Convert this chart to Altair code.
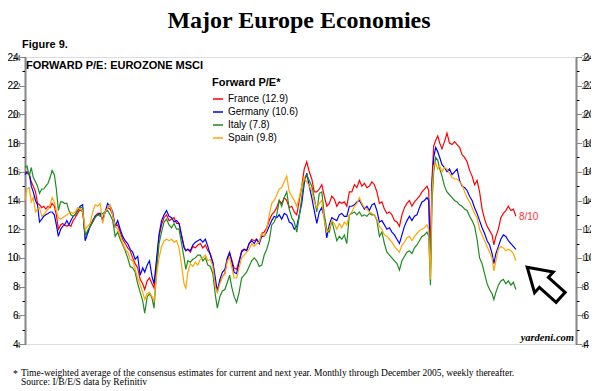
import altair as alt
import pandas as pd

# ---- data (decimal year, forward P/E) ----
dates = [2004.0, 2004.08, 2004.17, 2004.25, 2004.33, 2004.42, 2004.5, 2004.58, 2004.67, 2004.75, 2004.83, 2004.92,
         2005.0, 2005.08, 2005.17, 2005.25, 2005.33, 2005.42, 2005.5, 2005.58, 2005.67, 2005.75, 2005.83, 2005.92,
         2006.0, 2006.1, 2006.2, 2006.3, 2006.4, 2006.5, 2006.6, 2006.7, 2006.8, 2006.9,
         2007.0, 2007.1, 2007.2, 2007.3, 2007.4, 2007.5, 2007.6, 2007.7, 2007.8, 2007.9,
         2008.0, 2008.1, 2008.2, 2008.3, 2008.4, 2008.5, 2008.6, 2008.7, 2008.78, 2008.88, 2008.97,
         2009.07, 2009.15, 2009.25, 2009.35, 2009.45, 2009.55, 2009.65, 2009.75, 2009.85, 2009.95,
         2010.05, 2010.15, 2010.25, 2010.35, 2010.42, 2010.5, 2010.6, 2010.7, 2010.8, 2010.9,
         2011.0, 2011.1, 2011.2, 2011.3, 2011.4, 2011.5, 2011.6, 2011.68, 2011.78, 2011.88, 2011.98,
         2012.08, 2012.17, 2012.25, 2012.35, 2012.45, 2012.55, 2012.65, 2012.75, 2012.85, 2012.95,
         2013.05, 2013.15, 2013.25, 2013.35, 2013.45, 2013.55, 2013.65, 2013.75, 2013.85, 2013.95,
         2014.05, 2014.15, 2014.25, 2014.35, 2014.45, 2014.55, 2014.65, 2014.75, 2014.85, 2014.95,
         2015.05, 2015.15, 2015.25, 2015.35, 2015.45, 2015.55, 2015.65, 2015.75, 2015.85, 2015.95,
         2016.05, 2016.15, 2016.25, 2016.35, 2016.45, 2016.55, 2016.65, 2016.75, 2016.85, 2016.95,
         2017.05, 2017.15, 2017.25, 2017.35, 2017.45, 2017.55, 2017.65, 2017.75, 2017.85, 2017.95,
         2018.05, 2018.15, 2018.25, 2018.35, 2018.45, 2018.55, 2018.65, 2018.75, 2018.85, 2018.95,
         2019.05, 2019.15, 2019.25, 2019.35, 2019.45, 2019.55, 2019.65, 2019.75, 2019.85, 2019.95,
         2020.05, 2020.12, 2020.19, 2020.25, 2020.32, 2020.4, 2020.48, 2020.56, 2020.65, 2020.75, 2020.85, 2020.95,
         2021.05, 2021.15, 2021.25, 2021.35, 2021.45, 2021.55, 2021.65, 2021.75, 2021.85, 2021.95,
         2022.05, 2022.15, 2022.25, 2022.35, 2022.45, 2022.55, 2022.65, 2022.72, 2022.8, 2022.9,
         2023.0, 2023.1, 2023.2, 2023.3, 2023.4, 2023.5, 2023.6]

france = [16.0, 15.9, 15.8, 15.3, 15.0, 14.6, 13.8, 13.7, 13.5, 13.6, 13.4, 13.6,
          13.5, 13.8, 13.6, 13.0, 12.0, 12.3, 12.4, 12.3, 12.2, 12.3, 12.2, 12.6,
          12.8, 13.1, 13.4, 13.2, 11.6, 11.8, 12.2, 12.6, 12.9, 13.1,
          13.1, 12.7, 13.2, 13.5, 13.4, 13.0, 12.2, 12.3, 11.8, 11.3,
          11.0, 10.7, 10.5, 10.0, 9.6, 9.3, 8.5, 8.2, 7.8, 8.4, 8.6,
          8.2, 7.9, 9.6, 11.5, 12.3, 12.8, 13.0, 12.6, 12.7, 12.8,
          12.4, 12.4, 11.6, 10.8, 10.5, 10.6, 10.4, 10.8, 10.7, 10.9,
          11.0, 10.7, 10.9, 10.5, 10.3, 9.6, 8.2, 7.8, 8.3, 8.7, 8.9,
          9.9, 10.3, 9.9, 9.3, 9.2, 9.8, 10.5, 10.6, 10.5, 11.0,
          11.3, 11.2, 11.3, 11.0, 11.7, 11.8, 12.1, 12.6, 13.0, 13.2,
          13.5, 14.0, 13.8, 14.2, 14.0, 13.5, 13.6, 13.2, 13.0, 14.0,
          15.0, 16.2, 16.7, 16.0, 15.5, 14.6, 14.6, 14.8, 15.1, 14.3,
          13.6, 13.8, 14.3, 14.1, 13.6, 13.9, 13.8, 13.9, 13.6, 14.6,
          14.6, 15.1, 14.9, 15.4, 15.0, 15.2, 14.9, 15.0, 15.3, 15.1,
          14.6, 13.8, 13.9, 13.4, 13.1, 13.2, 13.0, 12.6, 12.5, 12.2,
          13.0, 13.5, 13.8, 14.0, 13.6, 13.9, 14.1, 14.3, 14.6, 14.8,
          15.0, 14.7, 10.0, 15.5, 17.8, 18.2, 18.5, 18.0, 17.6, 18.1, 18.7, 18.0,
          17.9, 18.1, 17.9, 17.7, 17.2, 17.0, 16.7, 16.1, 15.7, 15.1,
          15.4, 14.6, 13.4, 12.7, 12.2, 11.9, 11.6, 10.9, 11.5, 12.0,
          12.8, 13.1, 13.3, 13.6, 13.3, 13.4, 12.9]

germany = [15.8, 16.0, 15.9, 15.0, 14.6, 14.0, 13.7, 12.5, 12.7, 12.9, 13.0, 13.1,
           13.2, 13.2, 13.0, 12.3, 11.5, 12.0, 12.2, 12.3, 12.6, 12.3, 12.6, 12.9,
           13.0, 13.3, 13.6, 13.7, 11.2, 11.7, 12.2, 12.5, 12.9, 13.0,
           13.1, 12.6, 13.2, 13.8, 13.6, 13.2, 12.2, 12.6, 12.0, 11.5,
           11.2, 11.0, 10.6, 10.4, 9.9, 10.1, 8.8, 9.3, 9.0, 9.5, 9.8,
           8.7, 8.2, 9.9, 11.6, 12.6, 13.0, 13.3, 12.9, 12.8, 12.5,
           12.6, 12.4, 11.5, 10.7, 10.5, 10.6, 10.5, 10.9, 11.1, 11.2,
           11.3, 11.1, 11.3, 10.8, 10.2, 9.7, 8.6, 7.6, 8.5, 9.0, 9.2,
           10.0, 10.4, 9.8, 9.0, 8.9, 9.7, 10.4, 10.6, 10.5, 11.0,
           11.2, 11.0, 11.3, 11.0, 11.5, 11.5, 11.8, 12.2, 12.6, 12.9,
           12.8, 13.0, 12.7, 13.1, 13.0, 12.5, 12.4, 12.0, 12.2, 13.0,
           13.8, 15.2, 15.9, 15.0, 14.2, 13.3, 12.4, 13.2, 13.5, 12.8,
           11.4, 12.3, 12.8, 12.7, 12.6, 13.0, 13.1, 12.9, 12.9, 13.6,
           13.6, 13.7, 13.9, 14.0, 13.7, 13.4, 13.6, 13.3, 13.7, 13.8,
           13.3, 12.5, 12.6, 12.3, 12.0, 12.1, 11.8, 11.6, 11.3, 11.0,
           11.6, 12.2, 12.6, 12.9, 12.6, 12.9, 13.0, 13.5, 13.9, 14.0,
           14.2, 14.0, 9.2, 15.0, 17.0, 17.7, 17.4, 17.0, 16.5, 16.3, 16.0, 16.2,
           15.8, 16.0, 16.2, 15.4, 15.0, 14.9, 14.7, 14.3, 14.0, 13.5,
           13.1, 12.6, 12.1, 11.7, 11.2, 10.9, 10.3, 9.6, 10.3, 10.8,
           11.3, 11.6, 11.5, 11.2, 11.0, 10.8, 10.6]

italy = [16.3, 16.4, 15.7, 16.3, 15.6, 15.3, 15.0, 14.5, 14.8, 14.8, 15.0, 15.2,
         15.6, 16.1, 15.8, 14.8, 13.3, 13.9, 13.9, 13.8, 13.8, 13.3, 13.0, 12.9,
         13.0, 13.3, 13.5, 13.5, 11.5, 11.9, 12.2, 12.5, 12.8, 13.0,
         12.9, 13.1, 13.2, 13.3, 13.0, 12.6, 11.5, 11.8, 11.3, 10.9,
         10.5, 10.0, 9.4, 9.3, 9.0, 8.2, 7.6, 7.0, 6.15, 7.3, 7.5,
         7.2, 6.5, 9.0, 11.0, 11.8, 12.5, 12.7, 12.3, 12.1, 12.4,
         12.0, 12.0, 11.0, 10.0, 9.2, 9.8, 9.7, 9.9, 10.0, 10.2,
         10.2, 9.8, 10.0, 9.5, 9.4, 8.9, 7.4, 6.5, 7.3, 7.7, 7.8,
         8.3, 8.8, 8.0, 7.3, 6.9, 7.6, 8.6, 8.8, 9.0, 9.4,
         9.8, 10.0, 9.8, 9.4, 9.5, 10.2, 10.6, 11.2, 12.3, 12.5,
         13.0, 14.0, 13.6, 14.2, 14.6, 13.4, 12.8, 12.5, 11.8, 12.9,
         14.2, 15.5, 15.8, 15.4, 15.0, 14.2, 13.2, 14.5, 14.6, 13.0,
         12.0, 11.8, 12.6, 11.9, 11.2, 11.5, 11.3, 11.6, 11.0, 13.0,
         13.1, 13.2, 13.0, 13.2, 12.9, 13.0, 12.9, 13.1, 13.0, 13.0,
         12.6, 11.5, 11.8, 11.0, 10.4, 10.2, 10.0, 9.8, 9.6, 9.15,
         9.8, 10.1, 10.4, 10.5, 10.3, 10.7, 10.9, 11.2, 11.5, 11.6,
         11.8, 11.5, 8.1, 13.8, 16.0, 17.0, 16.8, 16.2, 15.7, 15.0, 14.6, 14.4,
         14.2, 14.0, 13.9, 13.7, 13.6, 13.4, 13.3, 12.9, 12.6, 12.2,
         11.3, 10.0, 9.6, 8.9, 8.2, 7.8, 7.5, 7.1, 7.6, 8.1,
         8.4, 8.5, 8.2, 8.4, 8.1, 8.3, 7.8]

spain = [14.0, 14.8, 14.9, 13.9, 14.2, 13.2, 13.4, 13.5, 12.9, 13.0, 13.2, 13.4,
         13.7, 14.2, 13.9, 13.3, 12.8, 12.7, 12.8, 12.9, 13.0, 13.1, 13.2, 13.1,
         13.2, 13.5, 13.4, 13.3, 12.0, 12.2, 12.4, 13.2, 13.7, 13.6,
         13.8, 12.4, 13.2, 13.5, 13.7, 13.0, 12.2, 12.0, 11.6, 11.0,
         10.6, 10.4, 9.9, 9.8, 9.2, 8.6, 8.1, 7.6, 7.1, 7.5, 7.6,
         7.3, 7.0, 8.8, 10.0, 10.8, 11.2, 11.3, 11.2, 11.3, 11.1,
         11.2, 10.7, 9.5, 8.2, 7.9, 9.0, 9.6, 9.4, 9.7, 9.5,
         9.9, 10.0, 10.2, 9.8, 9.9, 9.4, 8.0, 7.6, 8.2, 8.7, 8.9,
         9.8, 10.0, 9.4, 8.6, 8.6, 9.3, 10.0, 10.2, 10.4, 10.6,
         11.0, 10.8, 11.0, 11.1, 11.7, 11.5, 12.0, 13.0, 13.8, 14.0,
         14.4, 14.8, 14.9, 15.3, 15.7, 14.6, 14.3, 14.0, 13.6, 14.2,
         15.0, 15.6, 15.3, 15.0, 14.7, 13.9, 13.5, 13.8, 14.0, 12.6,
         11.8, 12.0, 12.6, 12.4, 12.0, 12.4, 12.1, 12.5, 12.3, 13.0,
         13.2, 13.6, 13.8, 14.2, 13.8, 13.5, 13.4, 13.2, 13.1, 13.0,
         12.7, 12.2, 12.0, 11.6, 11.5, 11.3, 11.1, 10.8, 10.6, 10.4,
         10.9, 11.1, 11.4, 11.5, 11.2, 11.5, 11.7, 11.9, 12.0, 12.1,
         12.3, 12.0, 8.5, 14.5, 16.4, 16.6, 16.2, 16.4, 16.0, 16.3, 16.2, 15.9,
         15.6, 15.5, 15.5, 15.3, 15.1, 14.6, 14.2, 13.9, 13.5, 13.1,
         12.8, 12.0, 11.6, 11.2, 10.8, 10.4, 10.0, 9.1, 9.8, 10.6,
         10.8, 10.7, 10.5, 10.6, 10.5, 10.3, 9.8]

series_names = ["France (12.9)", "Germany (10.6)", "Italy (7.8)", "Spain (9.8)"]
series_colors = ["#FF0000", "#0000FF", "#1E8C1E", "#FFA500"]
year_ticks = list(range(2004, 2027))
y_ticks = list(range(4, 25))

note_date = [2023.72]
note_value = [12.85]
note_text = ["8/10"]

arrow_date = [2024.72]
arrow_value = [8.3]


def to_ts(d):
    y = int(d)
    return pd.Timestamp(year=y, month=1, day=1) + pd.Timedelta(days=(d - y) * 365.25)


rows = []
for name, vals in zip(series_names, [france, germany, italy, spain]):
    for d, v in zip(dates, vals):
        rows.append({"date": to_ts(d), "pe": v, "series": name})
df = pd.DataFrame(rows)

W, H = 551, 287
x_scale = alt.Scale(domain=[alt.DateTime(year=2004, month=1, date=1),
                            alt.DateTime(year=2026, month=1, date=1)])
y_scale = alt.Scale(domain=[4, 24], nice=False, zero=False)

x_axis = alt.Axis(
    values=[alt.DateTime(year=y, month=1, date=1) for y in year_ticks],
    labelExpr="year(datum.value) >= 2026 ? '' : timeFormat(datum.value, '%Y')",
    labelOffset=12.5, labelAlign="center", labelFlush=False, labelOverlap=False,
    tickSize=7, tickColor="#000", tickWidth=1, labelPadding=-2,
    labelFont="Liberation Serif", labelFontSize=10, labelColor="#222",
    domainColor="#000", domainWidth=1.5, grid=False, title=None,
)


def y_axis(orient, major, minor, pad):
    return alt.Axis(
        orient=orient, values=y_ticks,
        labelExpr="datum.value % 2 == 0 ? datum.label : ''",
        tickSize={"condition": {"test": "datum.value % 2 == 0", "value": major}, "value": minor},
        tickColor="#000", tickWidth=1, labelPadding=pad,
        labelFont="Liberation Serif", labelFontSize=8.5, labelColor="#333",
        domainColor="#000", domainWidth=1.5, grid=False, title=None, labelOverlap=False,
    )


lines = alt.Chart(df).mark_line(strokeWidth=1.2).encode(
    x=alt.X("date:T", scale=x_scale, axis=x_axis),
    y=alt.Y("pe:Q", scale=y_scale, axis=y_axis("left", 5, 3, 0)),
    color=alt.Color("series:N", sort=series_names,
                    scale=alt.Scale(domain=series_names, range=series_colors),
                    legend=alt.Legend(title="Forward P/E*", orient="none",
                                      legendX=187, legendY=20)),
    order=alt.Order("date:T"),
)

right_axis = alt.Chart(df).mark_line(opacity=0).encode(
    x=alt.X("date:T", scale=x_scale, axis=None),
    y=alt.Y("pe:Q", scale=y_scale, axis=y_axis("right", 5, 3, 0)),
    detail="series:N",
)

note_df = pd.DataFrame({"date": [to_ts(d) for d in note_date], "pe": note_value, "t": note_text})
note = alt.Chart(note_df).mark_text(color="#FF3030", fontSize=10, align="left", baseline="middle",
                                    font="Liberation Sans").encode(
    x=alt.X("date:T", scale=x_scale), y=alt.Y("pe:Q", scale=y_scale), text="t:N")

arrow_df = pd.DataFrame({"date": [to_ts(d) for d in arrow_date], "pe": arrow_value})
arrow_path = "M0,-1 L0.62,0 L0.3,0 L0.3,1 L-0.3,1 L-0.3,0 L-0.62,0 Z"
arrow = alt.Chart(arrow_df).mark_point(shape=arrow_path, size=2025, angle=312, filled=False,
                                       stroke="#000", strokeWidth=3, opacity=1).encode(
    x=alt.X("date:T", scale=x_scale), y=alt.Y("pe:Q", scale=y_scale))


def label(text, x, y, **kw):
    return alt.Chart(pd.DataFrame({"t": [text]})).mark_text(baseline="middle", **kw).encode(
        x=alt.value(x), y=alt.value(y), text="t:N")


main_title = label("Major Europe Economies", 274, -36, align="center", font="Liberation Serif",
                   fontSize=24, fontWeight="bold", color="#000")
fig = label("Figure 9.", -3, -12, align="left", font="Liberation Sans", fontSize=11,
            fontWeight="bold", color="#000")
inner = label("FORWARD P/E: EUROZONE MSCI", 1, 9, align="left", font="Liberation Sans",
              fontSize=11, fontWeight="bold", color="#000")
yardeni = label("yardeni.com", 549, 281, align="right", font="Liberation Serif", fontSize=10.5,
                fontWeight="bold", fontStyle="italic", color="#000")
star = label("*", -12, 317, align="left", font="Liberation Serif", fontSize=9.5, color="#000")
foot1 = label("Time-weighted average of the consensus estimates for current and next year. "
              "Monthly through December 2005, weekly thereafter.", -4, 316, align="left",
              font="Liberation Serif", fontSize=9.5, color="#000")
foot2 = label("Source: I/B/E/S data by Refinitiv", -4, 325, align="left",
              font="Liberation Serif", fontSize=9.5, color="#000")

chart = alt.layer(
    lines, right_axis, note, arrow, main_title, fig, inner, yardeni, star, foot1, foot2
).resolve_axis(y="independent").properties(
    width=W, height=H,
    autosize=alt.AutoSizeParams(type="none"),
    padding={"left": 17, "top": 49, "right": 15, "bottom": 45},
).configure_view(
    fill="#FFFFE4", stroke="#333333", strokeWidth=2.5,
).configure_legend(
    titleFont="Liberation Sans", titleFontSize=11, titleFontWeight="bold", titleColor="#000",
    titlePadding=-1, labelFont="Liberation Sans", labelFontSize=10, labelColor="#222",
    symbolType="stroke", symbolSize=320, symbolStrokeWidth=2, clipHeight=12.6,
    rowPadding=0, labelOffset=7, padding=0,
).configure(background="white")

chart.save("out.html", embed_options={"renderer": "svg", "actions": False})
